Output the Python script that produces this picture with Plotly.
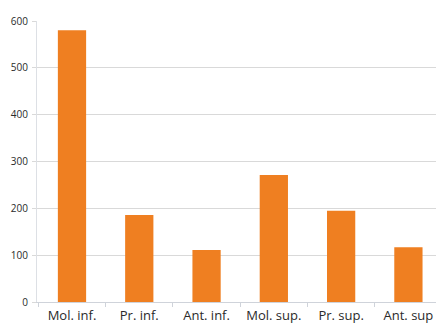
import plotly.graph_objects as go

# Tooth groups and their counts
categories = ["Mol. inf.", "Pr. inf.", "Ant. inf.", "Mol. sup.", "Pr. sup.", "Ant. sup"]
counts = [580, 186, 111, 271, 195, 117]
y_ticks = [0, 100, 200, 300, 400, 500, 600]

fig = go.Figure(
    go.Bar(
        x=categories,
        y=counts,
        marker=dict(color="#ef7f21", line=dict(width=0)),
    )
)

fig.update_layout(
    width=436,
    height=324,
    margin=dict(l=37, r=0, t=21, b=22),
    paper_bgcolor="white",
    plot_bgcolor="white",
    bargap=0.58,
    showlegend=False,
    font=dict(family="Open Sans", size=11, color="#2a2a2a"),
)

fig.update_xaxes(
    type="category",
    range=[-0.52, 5.41],
    automargin=False,
    showline=True,
    linecolor="#cfd3da",
    linewidth=1,
    ticks="outside",
    tickson="boundaries",
    ticklen=4,
    tickcolor="#cfd3da",
    showgrid=False,
    ticklabelstandoff=1,
    tickfont=dict(size=13),
)

fig.update_yaxes(
    range=[0, 600],
    tickvals=y_ticks,
    automargin=False,
    showline=True,
    linecolor="#dde0e5",
    linewidth=1,
    showgrid=True,
    gridcolor="#d9d9d9",
    gridwidth=1,
    zeroline=False,
    ticks="outside",
    ticklen=4,
    tickcolor="#d9d9d9",
    ticklabelstandoff=2,
    tickfont=dict(size=10),
)

fig.write_html("out.html")
